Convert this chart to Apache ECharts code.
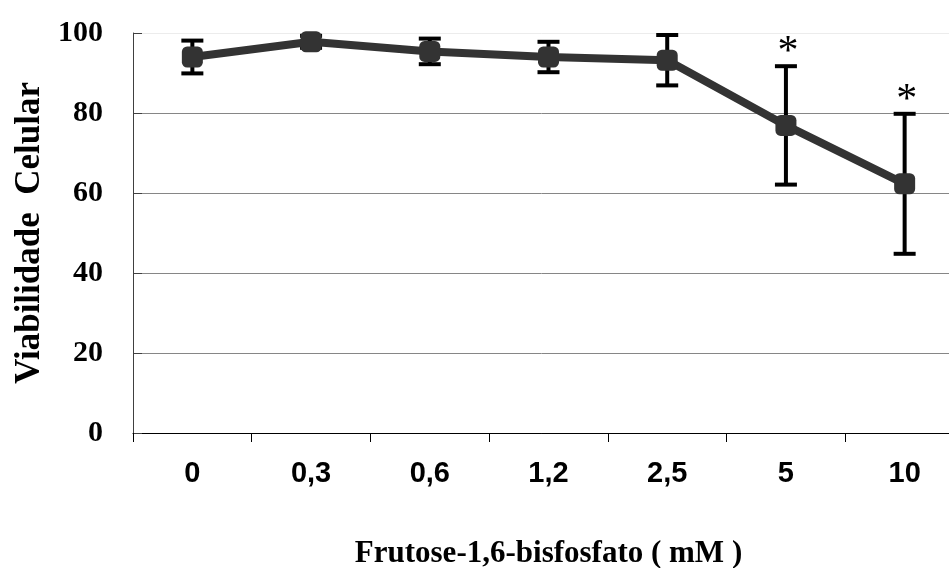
<!DOCTYPE html>
<html>
<head>
<meta charset="utf-8">
<script src="https://cdn.jsdelivr.net/npm/echarts@6/dist/echarts.min.js"></script>
<style>
  html, body { margin: 0; padding: 0; background: #fff; }
  #chart { width: 949px; height: 568px; }
</style>
</head>
<body>
<div id="chart"></div>
<script>
// Cell viability (%) for each fructose-1,6-bisphosphate concentration
const categories = ['0', '0,3', '0,6', '1,2', '2,5', '5', '10'];
const viability = [94.0, 97.8, 95.4, 94.0, 93.2, 76.9, 62.3];
const sdValues = [4.1, 1.5, 3.2, 3.8, 6.3, 14.8, 17.5];
const significance = ['', '', '', '', '', '*', '*'];
const yMin = 0, yMax = 100, yStep = 20;

const serifBold = { fontFamily: 'Liberation Serif, Times New Roman, serif', fontWeight: 'bold', color: '#000' };

const chart = echarts.init(document.getElementById('chart'), null, { renderer: 'canvas' });

chart.setOption({
  animation: false,
  backgroundColor: '#fff',
  // plot area runs past the right edge of the canvas
  grid: { left: 133, top: 33, bottom: 135, width: 831, containLabel: false, outerBoundsMode: 'none' },
  xAxis: {
    type: 'category',
    data: categories,
    boundaryGap: true,
    name: 'Frutose-1,6-bisfosfato ( mM )',
    nameLocation: 'middle',
    nameGap: 105,
    nameTextStyle: Object.assign({}, serifBold, { fontSize: 31 }),
    axisLine: { lineStyle: { color: '#000', width: 1 } },
    axisTick: { show: true, length: 9, alignWithLabel: false, lineStyle: { color: '#000' } },
    axisLabel: {
      margin: 26,
      fontFamily: 'Liberation Sans, Arial, sans-serif',
      fontWeight: 'bold',
      fontSize: 29,
      color: '#000'
    },
    splitLine: { show: false }
  },
  yAxis: {
    type: 'value',
    min: yMin,
    max: yMax,
    interval: yStep,
    name: 'Viabilidade  Celular',
    nameLocation: 'middle',
    nameRotate: 90,
    nameGap: 76,
    nameTextStyle: Object.assign({}, serifBold, { fontSize: 35 }),
    axisLine: { show: true, lineStyle: { color: '#404040', width: 1 } },
    axisTick: { show: true, inside: true, length: 9, lineStyle: { color: '#404040' } },
    axisLabel: Object.assign({ margin: 30, fontSize: 30 }, serifBold),
    splitLine: {
      show: true,
      lineStyle: { color: ['#000', '#868686', '#868686', '#868686', '#868686', '#ececec'], width: 1 }
    }
  },
  series: [
    {
      // error bars (mean ± SD) with significance marks
      type: 'custom',
      z: 2,
      data: categories.map((c, i) => [i, viability[i], sdValues[i]]),
      renderItem: function (params, api) {
        const i = api.value(0);
        const m = api.value(1);
        const s = api.value(2);
        const top = api.coord([i, m + s]);
        const bot = api.coord([i, m - s]);
        const hw = 11;
        const stroke = { stroke: '#000', lineWidth: 4 };
        const children = [
          { type: 'line', shape: { x1: top[0], y1: top[1], x2: bot[0], y2: bot[1] }, style: stroke },
          { type: 'line', shape: { x1: top[0] - hw, y1: top[1], x2: top[0] + hw, y2: top[1] }, style: stroke },
          { type: 'line', shape: { x1: bot[0] - hw, y1: bot[1], x2: bot[0] + hw, y2: bot[1] }, style: stroke }
        ];
        const mark = significance[params.dataIndex];
        if (mark) {
          children.push({
            type: 'text',
            style: {
              text: mark,
              x: top[0] + 2,
              y: top[1] + 8,
              align: 'center',
              verticalAlign: 'bottom',
              fontFamily: 'Liberation Serif, Times New Roman, serif',
              fontSize: 42,
              fill: '#000'
            }
          });
        }
        return { type: 'group', children: children };
      }
    },
    {
      type: 'line',
      z: 3,
      data: viability,
      symbol: 'roundRect',
      symbolSize: 21,
      itemStyle: { color: '#333333', borderWidth: 0 },
      lineStyle: { color: '#333333', width: 8 },
      emphasis: { disabled: true }
    }
  ]
});
</script>
</body>
</html>
